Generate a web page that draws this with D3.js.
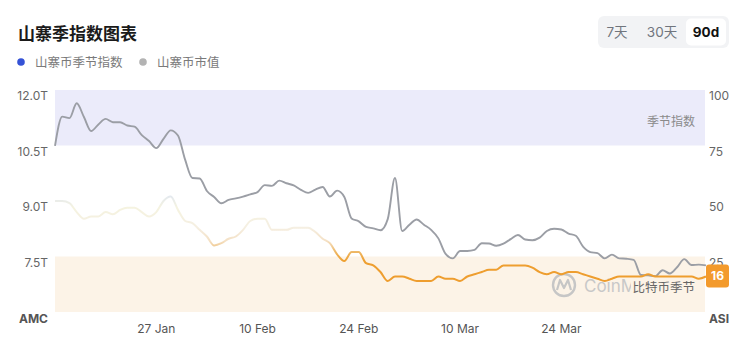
<!DOCTYPE html>
<html><head><meta charset="utf-8">
<script src="https://cdn.jsdelivr.net/npm/d3@7"></script>
<style>
html,body{margin:0;padding:0;background:#fff;}
svg{display:block;font-family:Inter,"Noto Sans CJK SC",sans-serif;}
</style></head>
<body><svg id="c" width="750" height="357"></svg>
<script>
const startDate = "2025-01-13";
const marketCapT = [10.49,11.28,11.24,11.64,11.27,10.89,11.07,11.22,11.13,11.13,11.04,11.01,10.78,10.62,10.43,10.68,10.91,10.77,10.11,9.62,
  9.61,9.27,9.11,8.94,9.03,9.07,9.12,9.18,9.24,9.43,9.41,9.55,9.48,9.42,9.30,9.22,9.31,9.38,9.12,9.28,
  9.11,8.53,8.45,8.30,8.26,8.21,8.51,9.62,8.19,8.36,8.50,8.36,8.22,7.99,7.57,7.45,7.65,7.65,7.68,7.86,
  7.85,7.79,7.85,7.97,8.08,7.96,7.94,8.01,8.19,8.25,8.23,8.12,8.06,7.77,7.62,7.59,7.45,7.55,7.45,7.44,
  7.41,7.00,6.99,6.97,7.13,7.04,7.21,7.43,7.27,7.28,7.26];
const seasonIndex = [50,50,49,45,42,43,43,45,44,46,47,47,45,43,45,50,52,46,41,40,
  37,34,30,31,33,34,37,41,42,42,37,37,37,38,38,38,36,33,31,26,
  23,27,27,22,21,18,14,16,16,15,14,14,14,16,15,15,14,16,17,18,
  19,19,21,21,21,21,20,18,17,18,17,18,18,17,16,15,14,15,16,16,
  16,16,17,16,16,16,16,16,16,15,16];
const leftTicks = [7.5, 9.0, 10.5, 12.0];
const leftTickLabels = ["7.5T","9.0T","10.5T","12.0T"];
const rightTicks = [25, 50, 75, 100];
const xTickDates = ["2025-01-27","2025-02-10","2025-02-24","2025-03-10","2025-03-24"];
const xTickLabels = ["27 Jan","10 Feb","24 Feb","10 Mar","24 Mar"];
const legendNames = ["山寨币季节指数","山寨币市值"];
const rangeButtons = ["7天","30天","90d"];

const parse = d3.utcParse("%Y-%m-%d");
const t0 = parse(startDate);
const dates = marketCapT.map((_, i) => d3.utcDay.offset(t0, i));

const svg = d3.select("#c");
const L = 55, R = 706, T = 90, B = 312;
const x = d3.scaleUtc().domain([dates[0], dates[dates.length-1]]).range([L, R]);
const yL = d3.scaleLinear().domain([6, 12]).range([B, T]);
const yR = d3.scaleLinear().domain([0, 100]).range([B, T]);

// title
svg.append("text").attr("x", 18).attr("y", 40).attr("font-size", 17).attr("font-weight", 700)
  .attr("fill", "#1a1a1a").text("山寨季指数图表");

// legend
const lg = [{c:"#3552d6", x:21, tx:35}, {c:"#b3b3b3", x:143, tx:157}];
lg.forEach((d, i) => {
  svg.append("circle").attr("cx", d.x).attr("cy", 62).attr("r", 3.8).attr("fill", d.c);
  svg.append("text").attr("x", d.tx).attr("y", 66.5).attr("font-size", 12.5).attr("fill", "#7a7a7a").text(legendNames[i]);
});

// range toggle
svg.append("rect").attr("x", 598).attr("y", 16).attr("width", 131).attr("height", 32).attr("rx", 6).attr("fill", "#f2f3f5");
svg.append("rect").attr("x", 686).attr("y", 18.5).attr("width", 40).attr("height", 27).attr("rx", 5).attr("fill", "#ffffff");
const btnX = [617, 662, 706];
rangeButtons.forEach((b, i) => {
  svg.append("text").attr("x", btnX[i]).attr("y", 37).attr("text-anchor", "middle")
    .attr("font-size", 13.5).attr("font-weight", i === 2 ? 700 : 400)
    .attr("fill", i === 2 ? "#111" : "#70757d").text(b);
});

// bands
svg.append("rect").attr("x", L).attr("y", yR(100)).attr("width", 705 - L).attr("height", yR(75) - yR(100)).attr("fill", "#ebebfa");
svg.append("rect").attr("x", L).attr("y", yR(25)).attr("width", 705 - L).attr("height", yR(0) - yR(25)).attr("fill", "#fcf3e7");

svg.append("text").attr("x", 695).attr("y", 126).attr("text-anchor", "end").attr("font-size", 12)
  .attr("fill", "#8a8a8a").text("季节指数");

// watermark
const wm = svg.append("g");
wm.append("circle").attr("cx", 564).attr("cy", 285).attr("r", 11).attr("fill", "none").attr("stroke", "#c6c6c6").attr("stroke-width", 2.4);
wm.append("path").attr("d", "M557,290 L560,280 L564,288 L568,280 L571,290").attr("fill", "none").attr("stroke", "#c6c6c6").attr("stroke-width", 2.2).attr("stroke-linejoin", "round");
svg.append("clipPath").attr("id", "wmclip").append("rect").attr("x", 570).attr("y", 260).attr("width", 61).attr("height", 50);
wm.append("text").attr("x", 584).attr("y", 292).attr("font-size", 17).attr("fill", "#c8c8c8")
  .attr("clip-path", "url(#wmclip)").text("CoinMarketCap");

// lines
const gradId = "idxGrad";
const grad = svg.append("defs").append("linearGradient").attr("id", gradId)
  .attr("gradientUnits", "userSpaceOnUse").attr("x1", 0).attr("x2", 0).attr("y1", yR(100)).attr("y2", yR(0));
[[100,"#3d57e8"],[75,"#3d57e8"],[60,"#b4c4ea"],[52,"#e4e9ee"],[47,"#f5f3e0"],[38,"#f5efe2"],[32,"#f4e0c4"],[27,"#eeb764"],[23,"#ee9f30"],[0,"#ee9a2c"]]
  .forEach(([v, c]) => grad.append("stop").attr("offset", (100 - v) / 100).attr("stop-color", c));

const gLine = d3.line().x((d, i) => x(dates[i])).y(d => yL(d)).curve(d3.curveMonotoneX);
const iLine = d3.line().x((d, i) => x(dates[i])).y(d => yR(d)).curve(d3.curveMonotoneX);
svg.append("path").datum(marketCapT).attr("d", gLine).attr("fill", "none").attr("stroke", "#9b9ea5").attr("stroke-width", 1.9);
svg.append("path").datum(seasonIndex).attr("d", iLine).attr("fill", "none").attr("stroke", `url(#${gradId})`).attr("stroke-width", 2);

svg.append("text").attr("x", 695).attr("y", 292).attr("text-anchor", "end").attr("font-size", 12.5)
  .attr("fill", "#666").text("比特币季节");

// left axis
const ax = svg.append("g").attr("font-size", 12).attr("fill", "#666");
leftTicks.forEach((v, i) => {
  ax.append("text").attr("x", 48).attr("y", yL(v) + 10).attr("text-anchor", "end").text(leftTickLabels[i]);
});
ax.append("text").attr("x", 48).attr("y", 323).attr("text-anchor", "end").attr("font-weight", 700).attr("fill", "#555").text("AMC");
rightTicks.forEach(v => {
  ax.append("text").attr("x", 709).attr("y", yR(v) + 10).text(v);
});
ax.append("text").attr("x", 709).attr("y", 323).attr("font-weight", 700).attr("fill", "#555").text("ASI");

// x axis
xTickDates.forEach((d, i) => {
  svg.append("text").attr("x", x(parse(d))).attr("y", 333).attr("text-anchor", "middle")
    .attr("font-size", 12).attr("fill", "#555").text(xTickLabels[i]);
});

// badge
const last = seasonIndex[seasonIndex.length - 1];
svg.append("rect").attr("x", 706).attr("y", yR(last) - 12).attr("width", 23).attr("height", 23).attr("rx", 3).attr("fill", "#f39a2c");
svg.append("text").attr("x", 717.5).attr("y", yR(last) + 4).attr("text-anchor", "middle").attr("font-size", 12)
  .attr("font-weight", 700).attr("fill", "#fff").text(last);
</script></body></html>
